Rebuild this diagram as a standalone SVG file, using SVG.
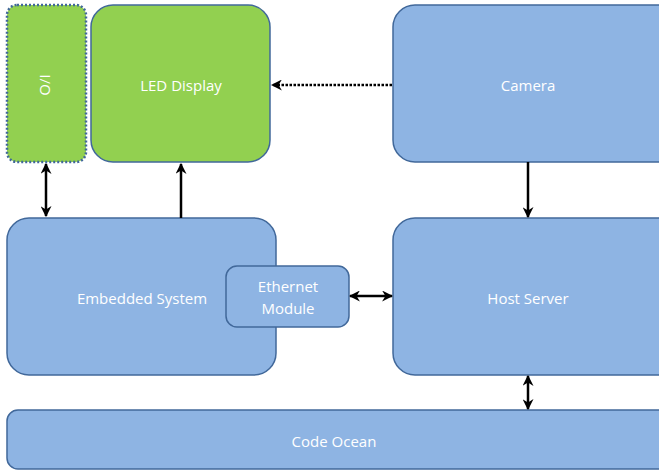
<svg xmlns="http://www.w3.org/2000/svg" width="659" height="470" viewBox="0 0 659 470">
  <style>
    .blue { fill: #8EB4E3; stroke: #41689A; stroke-width: 1.5; }
    .green { fill: #92D050; stroke: #41689A; stroke-width: 1.5; }
    .dotted { stroke-dasharray: 2 2; stroke-width: 2.5; }
    .lbl { font-family: "Open Sans", "Liberation Sans", sans-serif; font-size: 15px; fill: #FFFFFF; text-anchor: middle; dominant-baseline: central; }
    .link { stroke: #000000; stroke-width: 2.5; fill: none; }
    .dots { stroke-dasharray: 2.5 1.5; }
  </style>
  <defs>
    <marker id="head" viewBox="0 0 10 10" refX="9" refY="5" markerWidth="4.4" markerHeight="4.4" orient="auto-start-reverse" markerUnits="strokeWidth">
      <path d="M0,0 L10,5 L0,10 L3,5 Z" fill="#000000"/>
    </marker>
  </defs>
  <rect width="659" height="470" fill="#FFFFFF"/>

  <g id="io">
    <rect class="green dotted" x="7" y="5" width="79" height="157" rx="10"/>
    <text class="lbl" transform="translate(46,85) rotate(90)">I/O</text>
  </g>

  <g id="led-display">
    <rect class="green" x="91" y="5" width="179" height="157" rx="22"/>
    <text class="lbl" x="181" y="85">LED Display</text>
  </g>

  <g id="camera">
    <rect class="blue" x="393" y="5" width="290" height="157" rx="22"/>
    <text class="lbl" x="528" y="85">Camera</text>
  </g>

  <g id="embedded-system">
    <rect class="blue" x="7" y="218" width="269" height="157" rx="22"/>
    <text class="lbl" x="142" y="298">Embedded System</text>
  </g>

  <g id="ethernet-module">
    <rect class="blue" x="226" y="266" width="123" height="61" rx="11"/>
    <text class="lbl" x="288" y="286">Ethernet</text>
    <text class="lbl" x="288" y="308">Module</text>
  </g>

  <g id="host-server">
    <rect class="blue" x="393" y="218" width="290" height="157" rx="22"/>
    <text class="lbl" x="528" y="298">Host Server</text>
  </g>

  <g id="code-ocean">
    <rect class="blue" x="7" y="410" width="676" height="59" rx="11"/>
    <text class="lbl" x="334" y="441">Code Ocean</text>
  </g>

  <g id="connectors">
    <line class="link" x1="46" y1="164" x2="46" y2="216" marker-start="url(#head)" marker-end="url(#head)"/>
    <line class="link" x1="181" y1="218" x2="181" y2="164" marker-end="url(#head)"/>
    <line class="link dots" x1="392" y1="85" x2="272" y2="85" marker-end="url(#head)"/>
    <line class="link" x1="528" y1="162" x2="528" y2="217" marker-end="url(#head)"/>
    <line class="link" x1="350" y1="296" x2="392" y2="296" marker-start="url(#head)" marker-end="url(#head)"/>
    <line class="link" x1="528" y1="376" x2="528" y2="409" marker-start="url(#head)" marker-end="url(#head)"/>
  </g>
</svg>
